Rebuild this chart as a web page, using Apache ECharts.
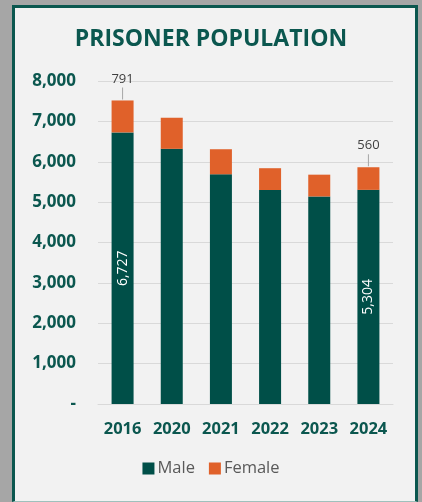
<!DOCTYPE html>
<html><head><meta charset="utf-8">
<script src="https://cdn.jsdelivr.net/npm/echarts@6/dist/echarts.min.js"></script>
<style>
html,body{margin:0;padding:0;background:#a6a6a6;width:422px;height:502px;overflow:hidden;}
#panel{position:absolute;left:12px;top:5px;height:497px;border:3px solid #0b574f;border-bottom:1px solid #9fc0bc;background:#f2f2f2;box-sizing:border-box;width:406px;}
#chart{position:absolute;left:0;top:0;width:422px;height:502px;}
</style></head>
<body>
<div id="panel"></div>
<div id="chart"></div>
<script>
const title = 'PRISONER POPULATION';
const years = ['2016','2020','2021','2022','2023','2024'];
const male = [6727, 6320, 5690, 5300, 5140, 5304];
const female = [791, 770, 620, 540, 540, 560];
const labelledIdx = [0, 5];
const yTicks = [0,1000,2000,3000,4000,5000,6000,7000,8000];

const teal = '#0b574f';
const chart = echarts.init(document.getElementById('chart'), null, {renderer:'canvas'});
const fmt = v => v === 0 ? '-' : v.toLocaleString('en-US');
chart.setOption({
  backgroundColor: 'transparent',
  textStyle: {fontFamily: 'Open Sans'},
  title: {text: title, left: 'center', top: 23,
    textStyle: {fontFamily: 'Open Sans', fontWeight: 'bold', fontSize: 23, color: teal}},
  grid: {left: 98, right: 29, top: 81, bottom: 98},
  xAxis: {type: 'category', data: years,
    axisLine: {lineStyle: {color: '#d9d9d9'}}, axisTick: {show: false},
    axisLabel: {color: teal, fontWeight: 'bold', fontSize: 16.5, margin: 17}},
  yAxis: {type: 'value', min: yTicks[0], max: yTicks[yTicks.length-1], interval: 1000,
    splitLine: {lineStyle: {color: '#d9d9d9'}},
    axisLabel: {color: teal, fontWeight: 'bold', fontSize: 17, margin: 22, formatter: fmt}},
  legend: {bottom: 20, left: 'center', itemWidth: 12, itemHeight: 12, itemGap: 14,
    icon: 'rect', textStyle: {color: '#595959', fontSize: 16.5, padding: [0,0,0,-2]},
    data: ['Male','Female']},
  series: [
    {name: 'Male', type: 'bar', stack: 'a', barWidth: 22, data: male,
      itemStyle: {color: '#004f48'},
      label: {show: true, position: 'inside', rotate: 90, color: '#fff', fontSize: 14,
        formatter: p => labelledIdx.includes(p.dataIndex) ? fmt(p.value) : ''}},
    {name: 'Female', type: 'bar', stack: 'a', barWidth: 22, data: female,
      itemStyle: {color: '#e0612a'},
      label: {show: true, position: 'top', distance: 1,
        formatter: p => labelledIdx.includes(p.dataIndex) ? '{v|' + fmt(p.value) + '}\n{l|}' : '',
        rich: {
          v: {fontSize: 13, color: '#404040', lineHeight: 17, align: 'center'},
          l: {width: 1, height: 12, backgroundColor: '#a6a6a6', align: 'center'}
        }}}
  ]
});
</script>
</body></html>
